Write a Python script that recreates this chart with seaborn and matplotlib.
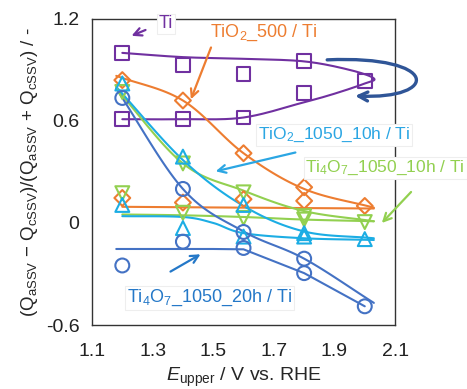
import numpy as np
import pandas as pd
import matplotlib
matplotlib.use("Agg")
import matplotlib.pyplot as plt
import seaborn as sns
from matplotlib.patches import FancyArrowPatch
from matplotlib.path import Path

sns.set_style("white")
plt.rcParams['font.family'] = ['Liberation Sans', 'DejaVu Sans']
plt.rcParams['mathtext.fontset'] = 'custom'
plt.rcParams['mathtext.rm'] = 'Liberation Sans'
plt.rcParams['mathtext.it'] = 'Liberation Sans:italic'

# ---------------- data (markers) ----------------
x_pts = [1.2, 1.4, 1.6, 1.8, 2.0]
ti_a = [1.00, 0.93, 0.875, 0.95, 0.835]
ti_b = [0.61, 0.61, 0.62, 0.765]
tio2_500_a = [0.84, 0.72, 0.41, 0.21, 0.10]
tio2_500_b = [0.147, 0.12, 0.14, 0.13]
tio2_1050_a = [0.82, 0.39, 0.106, -0.06, -0.095]
tio2_1050_b = [0.106, -0.03, -0.08, -0.08]
ti4o7_10h_a = [0.77, 0.35, 0.18, 0.04, 0.005]
ti4o7_10h_b = [0.175, 0.06, 0.03, 0.02]
ti4o7_20h_a = [0.735, 0.20, -0.053, -0.21, -0.49]
ti4o7_20h_b = [-0.25, -0.11, -0.147, -0.295]

# ---------------- trend curves (nodes) ----------------
ti_cx = [1.2, 1.4, 1.6, 1.8, 1.95, 2.03, 2.0, 1.9, 1.8, 1.6, 1.4, 1.2]
ti_cy = [1.00, 0.975, 0.965, 0.95, 0.90, 0.85, 0.82, 0.76, 0.71, 0.62, 0.61, 0.61]
o_ux = [1.18, 1.4, 1.6, 1.8, 2.03]
o_uy = [0.865, 0.72, 0.41, 0.20, 0.09]
o_lx = [1.2, 1.6, 2.03]
o_ly = [0.095, 0.09, 0.085]
g_ux = [1.18, 1.4, 1.6, 1.8, 2.03]
g_uy = [0.79, 0.35, 0.19, 0.07, 0.01]
g_lx = [1.2, 1.4, 1.6, 1.8, 2.03]
g_ly = [0.05, 0.045, 0.035, 0.02, 0.01]
c_ux = [1.18, 1.4, 1.6, 1.8, 2.03]
c_uy = [0.80, 0.37, 0.10, -0.05, -0.09]
c_lx = [1.2, 1.4, 1.5, 1.6, 1.8, 2.03]
c_ly = [0.04, 0.035, 0.0, -0.06, -0.09, -0.10]
b_ux = [1.18, 1.4, 1.6, 1.8, 2.03]
b_uy = [0.79, 0.20, -0.05, -0.21, -0.47]
b_lx = [1.18, 1.5, 1.6, 1.8, 2.0]
b_ly = [-0.153, -0.153, -0.155, -0.295, -0.49]

PURPLE = "#7030A0"
ORANGE = "#ED7D31"
CYAN = "#1CADE4"
GREEN = "#92D050"
BLUE = "#4472C4"


def smooth(xs, ys, n=20):
    """Catmull-Rom smoothing through the given nodes."""
    P = np.column_stack([xs, ys]).astype(float)
    P = np.vstack([P[0] * 2 - P[1], P, P[-1] * 2 - P[-2]])
    out = []
    for i in range(1, len(P) - 2):
        p0, p1, p2, p3 = P[i - 1], P[i], P[i + 1], P[i + 2]
        for t in np.linspace(0, 1, n, endpoint=False):
            t2, t3 = t * t, t * t * t
            out.append(0.5 * ((2 * p1) + (-p0 + p2) * t + (2 * p0 - 5 * p1 + 4 * p2 - p3) * t2
                              + (-p0 + 3 * p1 - 3 * p2 + p3) * t3))
    out.append(P[-2])
    out = np.array(out)
    return out[:, 0], out[:, 1]


fig = plt.figure(figsize=(4.67, 3.89), dpi=100)
ax = fig.add_axes([0.197, 0.1645, 0.649, 0.787])

curves = [
    (ti_cx, ti_cy, PURPLE, True),
    (o_ux, o_uy, ORANGE, True), (o_lx, o_ly, ORANGE, True),
    (g_ux, g_uy, GREEN, True), (g_lx, g_ly, GREEN, True),
    (c_ux, c_uy, CYAN, True), (c_lx, c_ly, CYAN, True),
    (b_ux, b_uy, BLUE, True), (b_lx, b_ly, BLUE, False),
]
for cx, cy, col, sm in curves:
    if sm:
        sx, sy = smooth(cx, cy)
    else:
        sx, sy = cx, cy
    sns.lineplot(x=sx, y=sy, sort=False, estimator=None, color=col, lw=1.5, ax=ax)

markers = [
    (ti_a, ti_b, 's', PURPLE),
    (tio2_500_a, tio2_500_b, 'D', ORANGE),
    (ti4o7_10h_a, ti4o7_10h_b, 'v', GREEN),
    (tio2_1050_a, tio2_1050_b, '^', CYAN),
    (ti4o7_20h_a, ti4o7_20h_b, 'o', BLUE),
]
for a, b, m, col in markers:
    xs = x_pts[:len(a)] + x_pts[:len(b)]
    ys = a + b
    size = 65 if m == 'D' else 100
    sns.scatterplot(x=xs, y=ys, marker=m, s=size, facecolors='none', edgecolor=col,
                    linewidth=1.5, ax=ax, zorder=5)

ax.set_xlim(1.1, 2.1)
ax.set_ylim(-0.6, 1.2)
ax.set_xticks([1.1, 1.3, 1.5, 1.7, 1.9, 2.1])
ax.set_xticklabels(["1.1", "1.3", "1.5", "1.7", "1.9", "2.1"])
ax.set_yticks([-0.6, 0, 0.6, 1.2])
ax.set_yticklabels(["-0.6", "0", "0.6", "1.2"])
ax.tick_params(direction='in', length=5, width=1, labelsize=14, colors='#222222')
ax.tick_params(axis='y', pad=9)
ax.tick_params(axis='x', pad=13)
for s in ax.spines.values():
    s.set_color('#333333')
    s.set_linewidth(1.0)
ax.set_xlabel(r"$\mathit{E}_{\rm upper}$ / V vs. RHE", fontsize=14, labelpad=4)
ax.set_ylabel(r"(Q$_{\rm aSSV}$ $-$ Q$_{\rm cSSV}$)/(Q$_{\rm aSSV}$ + Q$_{\rm cSSV}$) / -",
              fontsize=13.5, labelpad=4)

box = dict(boxstyle='square,pad=0.1', fc='white', ec='#eeeeee', lw=0.8)


def label(txt, xy, col, arrow_from, arrow_to, fs=13, bbox=None):
    ax.text(xy[0], xy[1], txt, color=col, fontsize=fs, ha='center', va='center',
            bbox=bbox, zorder=10, clip_on=False)
    ax.annotate("", xy=arrow_to, xytext=arrow_from,
                arrowprops=dict(arrowstyle='->', color=col, lw=1.6, mutation_scale=14),
                zorder=10, annotation_clip=False)


label("Ti", (1.344, 1.17), PURPLE, (1.285, 1.141), (1.222, 1.094), bbox=box)
label("TiO$_2$_500 / Ti", (1.668, 1.118), ORANGE, (1.496, 1.047), (1.423, 0.712))
label("TiO$_2$_1050_10h / Ti", (1.899, 0.518), "#2BA6E3", (1.780, 0.418), (1.499, 0.30),
      bbox=box, fs=12.5)
label("Ti$_4$O$_7$_1050_10h / Ti", (2.067, 0.324), GREEN, (2.159, 0.194), (2.05, -0.012),
      bbox=box, fs=12.5)
label("Ti$_4$O$_7$_1050_20h / Ti", (1.489, -0.44), "#2478C8", (1.351, -0.294), (1.466, -0.176),
      bbox=box, fs=13)

# loop arrow
path = Path([(1.876, 0.959), (2.249, 0.988), (2.249, 0.724), (1.968, 0.747)],
            [Path.MOVETO, Path.CURVE4, Path.CURVE4, Path.CURVE4])
loop = FancyArrowPatch(path=path, arrowstyle='->', color="#2F5597", lw=2.4,
                       mutation_scale=16, clip_on=False, zorder=10)
ax.add_patch(loop)

fig.savefig("out.png", dpi=100)
